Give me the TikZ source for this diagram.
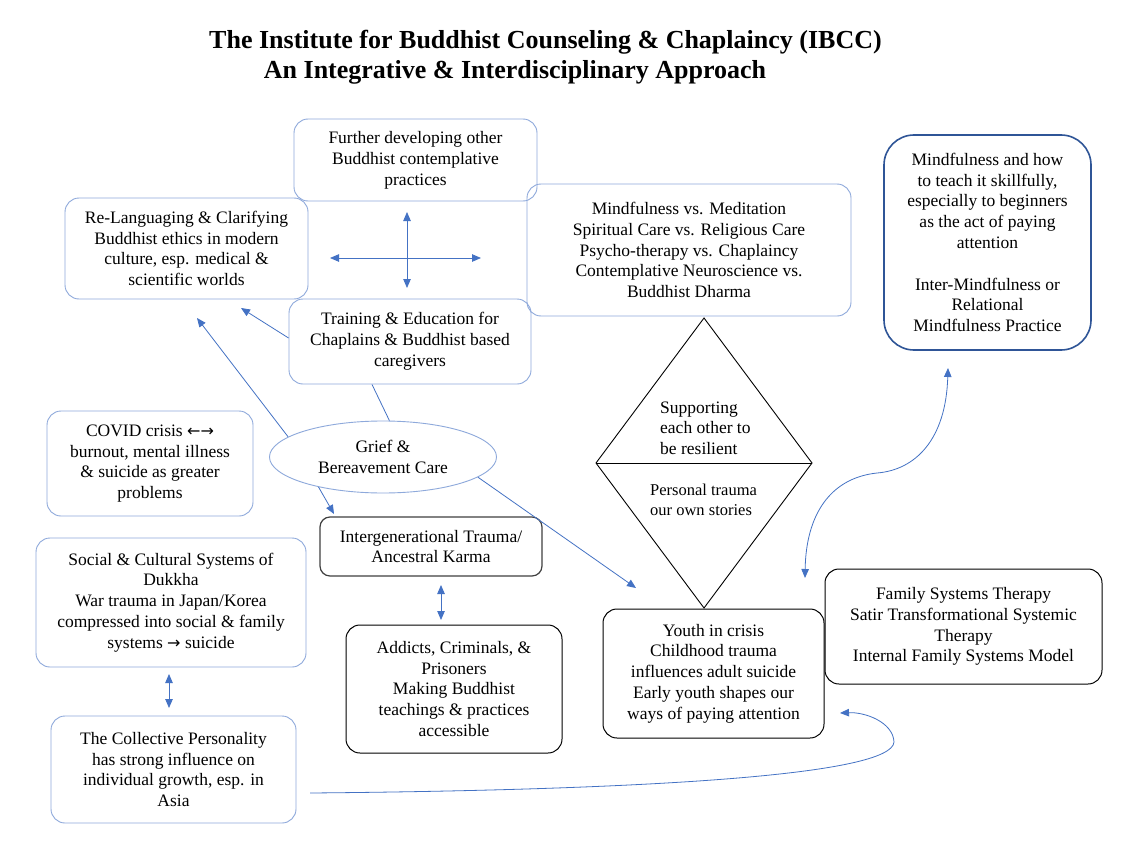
\documentclass[tikz,border=0pt]{standalone}
\usepackage{fontspec}
\setmainfont{Liberation Serif}
\newfontfamily\symfont{DejaVu Sans}
\newcommand\arrsym[1]{{\symfont\fontsize{16}{20}\selectfont #1}}
\usetikzlibrary{shapes.geometric,arrows.meta}
\definecolor{lb}{HTML}{8EA9DB}
\definecolor{ab}{HTML}{4472C4}
\definecolor{db}{HTML}{2F5597}
\begin{document}
\begin{tikzpicture}[x=1pt,y=-1pt,
 txt/.style={font=\fontsize{17.5}{20.8}\selectfont, align=center, text=black},
 bbox/.style={txt, draw=lb, line width=0.9pt, rounded corners=14pt, inner sep=0pt},
 kbox/.style={txt, draw=black, line width=1pt, rounded corners=14pt, inner sep=0pt},
 arr/.style={draw=ab, line width=0.8pt, -{Triangle[length=9pt,width=7.5pt]}},
 darr/.style={draw=ab, line width=0.8pt, {Triangle[length=9pt,width=7.5pt]}-{Triangle[length=9pt,width=7.5pt]}},
 ttl/.style={font=\fontsize{26}{30}\selectfont\bfseries, inner sep=0pt},
]
\useasboundingbox[fill=white] (0,0) rectangle (1140,848);

% titles
\node[ttl] (t1) at (545.5,42) {The Institute for Buddhist Counseling \& Chaplaincy (IBCC)};
\node[ttl] (t2) at (515,72) {An Integrative \& Interdisciplinary Approach};

% boxes
\node[bbox, minimum width=243, minimum height=82] (further) at (415.5,160)
 {Further developing other\\Buddhist contemplative\\practices};
\node[bbox, minimum width=243, minimum height=101] (relang) at (186.5,248.5)
 {Re-Languaging \& Clarifying\\Buddhist ethics in modern\\culture, esp. medical \&\\scientific worlds};
\node[bbox, minimum width=242, minimum height=85] (train) at (410,341.5)
 {Training \& Education for\\Chaplains \& Buddhist based\\caregivers};
\node[bbox, minimum width=324, minimum height=132] (mvs) at (689,250)
 {Mindfulness vs. Meditation\\Spiritual Care vs. Religious Care\\Psycho-therapy vs. Chaplaincy\\Contemplative Neuroscience vs.\\Buddhist Dharma};
\node[txt, draw=db, line width=1.6pt, rounded corners=30pt, inner sep=0pt, minimum width=207, minimum height=215] (mind) at (987.5,242.5)
 {Mindfulness and how\\to teach it skillfully,\\especially to beginners\\as the act of paying\\attention\\[20.8pt]Inter-Mindfulness or\\Relational\\Mindfulness Practice};
\node[bbox, minimum width=206, minimum height=105] (covid) at (150,463.5)
 {COVID crisis \arrsym{←→}\\burnout, mental illness\\\& suicide as greater\\problems};
\node[txt, ellipse, draw=lb, line width=0.9pt, inner sep=0pt, minimum width=227, minimum height=72] (grief) at (383,457)
 {Grief \&\\Bereavement Care};
\node[txt, draw=black!75, line width=1.2pt, rounded corners=10pt, inner sep=0pt, minimum width=222, minimum height=59] (inter) at (431,546.5)
 {Intergenerational Trauma/\\Ancestral Karma};
\node[bbox, minimum width=270, minimum height=129] (social) at (171,602.5)
 {Social \& Cultural Systems of\\Dukkha\\War trauma in Japan/Korea\\compressed into social \& family\\systems \arrsym{→} suicide};
\node[bbox, minimum width=245, minimum height=107] (coll) at (173.5,769.5)
 {The Collective Personality\\has strong influence on\\individual growth, esp. in\\Asia};
\node[kbox, minimum width=216, minimum height=128] (addicts) at (454,689)
 {Addicts, Criminals, \&\\Prisoners\\Making Buddhist\\teachings \& practices\\accessible};
\node[kbox, minimum width=221, minimum height=129] (youth) at (713.5,673.5)
 {Youth in crisis\\Childhood trauma\\influences adult suicide\\Early youth shapes our\\ways of paying attention};
\node[kbox, minimum width=277, minimum height=115] (family) at (963.5,626.5)
 {Family Systems Therapy\\Satir Transformational Systemic\\Therapy\\Internal Family Systems Model};

% diamond
\coordinate (dT) at (704,318);
\coordinate (dL) at (596,463);
\coordinate (dR) at (812,463);
\coordinate (dB) at (704,608);
\draw[black, line width=0.9pt] (dT) -- (dR) -- (dB) -- (dL) -- cycle;
\draw[black, line width=0.9pt] (dL) -- (dR);
\node[font=\fontsize{17.5}{20.5}\selectfont, align=left, anchor=west, inner sep=0pt] (sup) at (660,428)
 {Supporting\\each other to\\be resilient};
\node[font=\fontsize{16.5}{20}\selectfont, align=left, anchor=west, inner sep=0pt] (pers) at (650,500)
 {Personal trauma\\our own stories};

% cross arrows
\coordinate (cN) at (407,212);
\coordinate (cS) at (407,288);
\coordinate (cW) at (330,258);
\coordinate (cE) at (481,258);
\draw[darr] (cN) -- (cS);
\draw[darr] (cW) -- (cE);

% connectors
\coordinate (a1) at (197,318);
\coordinate (a2) at (241,308);
\coordinate (a3) at (334,514);
\coordinate (a4) at (636,588);
\draw[arr] (grief.168) -- (a1);
\draw[arr] ([yshift=3.5pt]train.west) -- (a2);
\draw[draw=ab, line width=0.8pt] ([xshift=-38pt]train.south) -- (grief.80);
\draw[arr] (grief.205) -- (a3);
\draw[arr] (grief.348) -- (a4);

\coordinate (i1) at (441,585);
\coordinate (i2) at (441,620);
\draw[darr] (i1) -- (i2);
\coordinate (s1) at (169,674);
\coordinate (s2) at (169,708);
\draw[darr] (s1) -- (s2);

% S curve between mind and family
\coordinate (m1) at (948,368);
\coordinate (m2) at (805,578);
\draw[darr] (m1) .. controls (946,440) and (915,470) .. (877,473) .. controls (830,478) and (806,515) .. (m2);

% long curve from collective personality to youth
\coordinate (c1) at (310,793);
\coordinate (c2) at (840,713);
\draw[arr] (c1) .. controls (650,790) and (892,775) .. (894,742) .. controls (893,722) and (865,712) .. (c2);

\end{tikzpicture}
\end{document}
